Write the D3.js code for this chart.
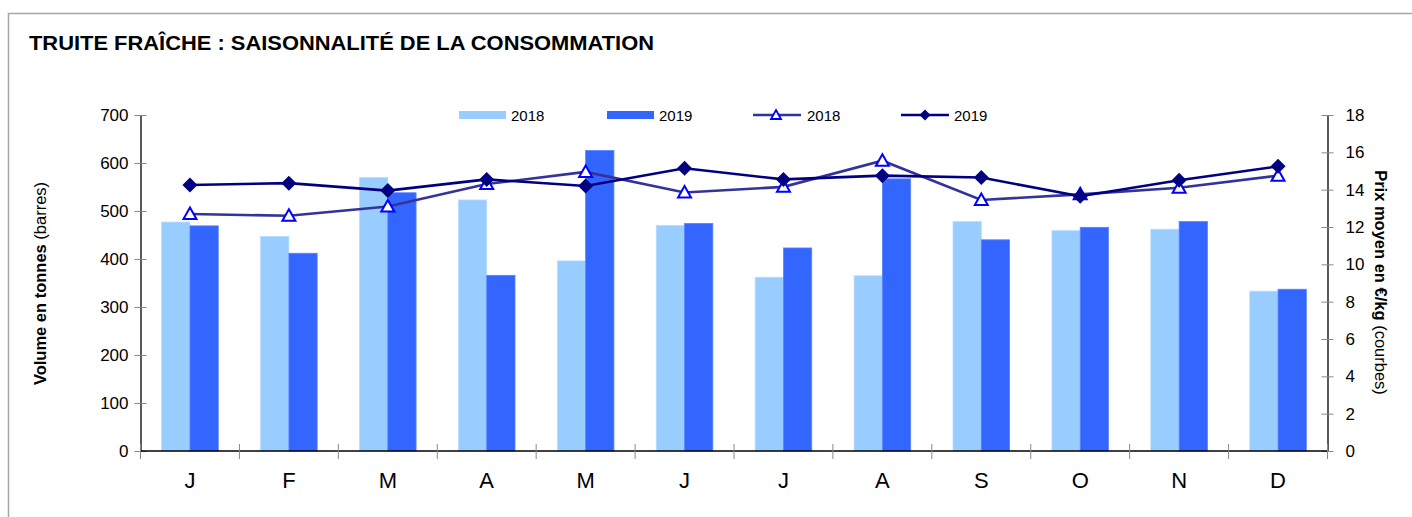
<!DOCTYPE html>
<html>
<head>
<meta charset="utf-8">
<script src="https://cdn.jsdelivr.net/npm/d3@7"></script>
<style>
  html, body { margin: 0; padding: 0; background: #fff; }
  svg { display: block; font-family: "Liberation Sans", Arial, sans-serif; }
</style>
</head>
<body>
<svg id="chart" width="1412" height="517"></svg>
<script>
// Months (initials) and monthly figures
const months = ["J", "F", "M", "A", "M", "J", "J", "A", "S", "O", "N", "D"];
// Volumes in tonnes (bars)
const volume2018 = [477, 447, 570, 523, 396, 470, 362, 365, 478, 459, 462, 333];
const volume2019 = [469, 412, 538, 366, 626, 474, 423, 567, 440, 466, 478, 337];
// Average price in €/kg (lines)
const price2018 = [12.7, 12.6, 13.1, 14.3, 14.95, 13.85, 14.15, 15.55, 13.45, 13.75, 14.1, 14.75];
const price2019 = [14.25, 14.35, 13.95, 14.55, 14.2, 15.15, 14.55, 14.75, 14.65, 13.65, 14.5, 15.25];
// Axis ticks
const volumeTicks = [0, 100, 200, 300, 400, 500, 600, 700];
const priceTicks = [0, 2, 4, 6, 8, 10, 12, 14, 16, 18];

const svg = d3.select("#chart");

// Outer frame
svg.append("path")
  .attr("d", "M8.5,520 V13.5 H1430")
  .attr("fill", "none").attr("stroke", "#a6a6a6").attr("stroke-width", 1.5);

// Title
svg.append("text")
  .attr("x", 29).attr("y", 50)
  .attr("font-size", 21).attr("font-weight", "bold").attr("fill", "#000")
  .attr("textLength", 625).attr("lengthAdjust", "spacingAndGlyphs")
  .text("TRUITE FRAÎCHE : SAISONNALITÉ DE LA CONSOMMATION");

const plotLeft = 140.5, plotRight = 1327.5, plotTop = 115, plotBottom = 451;

const x = d3.scaleBand().domain(d3.range(12)).range([plotLeft, plotRight]).padding(0);
const yL = d3.scaleLinear().domain([0, 700]).range([plotBottom, plotTop]);
const yR = d3.scaleLinear().domain([0, 18]).range([plotBottom, plotTop]);

const barW = 28.3;
const barColors = { y2018: "#99ccff", y2019: "#3366ff" };

// Bars
const g = svg.append("g");
months.forEach((m, i) => {
  const cx = x(i) + x.bandwidth() / 2;
  g.append("rect")
    .attr("x", cx - barW).attr("width", barW)
    .attr("y", yL(volume2018[i])).attr("height", yL(0) - yL(volume2018[i]))
    .attr("fill", barColors.y2018).attr("stroke", "#b8dcff").attr("stroke-width", 0.8);
  g.append("rect")
    .attr("x", cx).attr("width", barW)
    .attr("y", yL(volume2019[i])).attr("height", yL(0) - yL(volume2019[i]))
    .attr("fill", barColors.y2019).attr("stroke", "#5a82ff").attr("stroke-width", 0.8);
});

// Left axis
const leftAxis = d3.axisLeft(yL).tickValues(volumeTicks).tickSize(0).tickPadding(12);
const gl = svg.append("g").attr("transform", `translate(${plotLeft},0)`).call(leftAxis);
gl.select(".domain").attr("stroke", "#000").attr("stroke-width", 1.3);
gl.selectAll("text").attr("font-size", 17).attr("fill", "#000").attr("font-family", "Liberation Sans, Arial, sans-serif");
gl.selectAll(".tick").append("line").attr("x1", -6).attr("x2", 6).attr("stroke", "#888").attr("stroke-width", 1);

// Right axis
const rightAxis = d3.axisRight(yR).tickValues(priceTicks).tickSize(0).tickPadding(18);
const gr = svg.append("g").attr("transform", `translate(${plotRight},0)`).call(rightAxis);
gr.select(".domain").attr("stroke", "#000").attr("stroke-width", 1.3);
gr.selectAll("text").attr("font-size", 17).attr("fill", "#000").attr("font-family", "Liberation Sans, Arial, sans-serif");
gr.selectAll(".tick").append("line").attr("x1", -6).attr("x2", 6).attr("stroke", "#888").attr("stroke-width", 1);

// Bottom axis
const gb = svg.append("g").attr("transform", `translate(0,${plotBottom})`);
gb.append("line").attr("x1", plotLeft).attr("x2", plotRight).attr("stroke", "#000").attr("stroke-width", 1.5);
d3.range(13).forEach(i => {
  const xx = i < 12 ? x(i) : plotRight;
  gb.append("line").attr("x1", xx).attr("x2", xx).attr("y1", -7).attr("y2", 8)
    .attr("stroke", "#888").attr("stroke-width", 1);
});
gb.selectAll("text.month").data(months).join("text")
  .attr("class", "month")
  .attr("x", (d, i) => x(i) + x.bandwidth() / 2)
  .attr("y", 37)
  .attr("text-anchor", "middle")
  .attr("font-size", 22).attr("fill", "#000")
  .text(d => d);

// Axis titles
const lt = svg.append("text")
  .attr("transform", "translate(46,283.5) rotate(-90)")
  .attr("text-anchor", "middle").attr("font-size", 16.5).attr("fill", "#000");
lt.append("tspan").attr("font-weight", "bold").text("Volume en tonnes ");
lt.append("tspan").text("(barres)");

const rt = svg.append("text")
  .attr("transform", "translate(1375,282.5) rotate(90)")
  .attr("text-anchor", "middle").attr("font-size", 16.5).attr("fill", "#000");
rt.append("tspan").attr("font-weight", "bold").text("Prix moyen en  €/kg ");
rt.append("tspan").text("(courbes)");

// Lines
const lineGen = d3.line()
  .x((d, i) => x(i) + x.bandwidth() / 2)
  .y(d => yR(d));

svg.append("path").datum(price2018)
  .attr("d", lineGen).attr("fill", "none")
  .attr("stroke", "#333399").attr("stroke-width", 2.6);
svg.append("path").datum(price2019)
  .attr("d", lineGen).attr("fill", "none")
  .attr("stroke", "#000080").attr("stroke-width", 2.6);

const triPath = "M0,-6.5 L6.5,5 L-6.5,5 Z";
const diaPath = "M0,-7.5 L7.5,0 L0,7.5 L-7.5,0 Z";

svg.append("g").selectAll("path").data(price2018).join("path")
  .attr("transform", (d, i) => `translate(${x(i) + x.bandwidth() / 2},${yR(d)})`)
  .attr("d", triPath).attr("fill", "#fff").attr("stroke", "#0000ff").attr("stroke-width", 2);
svg.append("g").selectAll("path").data(price2019).join("path")
  .attr("transform", (d, i) => `translate(${x(i) + x.bandwidth() / 2},${yR(d)})`)
  .attr("d", diaPath).attr("fill", "#000080");

// Legend
const lg = svg.append("g").attr("font-size", 15).attr("fill", "#000");
lg.append("rect").attr("x", 459).attr("y", 111).attr("width", 47).attr("height", 8).attr("fill", barColors.y2018);
lg.append("text").attr("x", 511).attr("y", 120.5).text("2018");
lg.append("rect").attr("x", 607).attr("y", 111).attr("width", 47).attr("height", 8).attr("fill", barColors.y2019);
lg.append("text").attr("x", 659).attr("y", 120.5).text("2019");
lg.append("line").attr("x1", 753).attr("x2", 801).attr("y1", 115).attr("y2", 115).attr("stroke", "#333399").attr("stroke-width", 2.6);
lg.append("path").attr("transform", "translate(776,115)").attr("d", "M0,-5 L5,4 L-5,4 Z")
  .attr("fill", "#fff").attr("stroke", "#0000ff").attr("stroke-width", 1.8);
lg.append("text").attr("x", 807).attr("y", 120.5).text("2018");
lg.append("line").attr("x1", 901).attr("x2", 949).attr("y1", 115).attr("y2", 115).attr("stroke", "#000080").attr("stroke-width", 2.6);
lg.append("path").attr("transform", "translate(925,115)").attr("d", "M0,-5.5 L5.5,0 L0,5.5 L-5.5,0 Z").attr("fill", "#000080");
lg.append("text").attr("x", 954).attr("y", 120.5).text("2019");
</script>
</body>
</html>
